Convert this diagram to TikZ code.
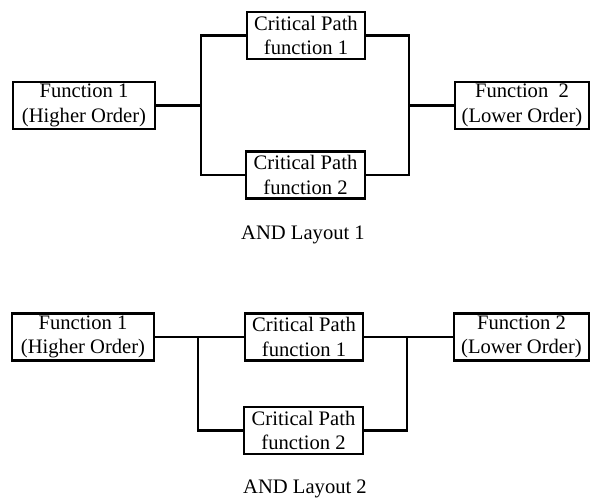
\documentclass[tikz,border=0pt]{standalone}
\usepackage{fontspec}
\setmainfont{Liberation Serif}
\begin{document}
\begin{tikzpicture}[x=0.5pt,y=-0.5pt,line width=1.1pt,
    fbox/.style={draw,align=center,inner sep=0pt,minimum height=23.5pt,
      font=\fontsize{10.3}{12.2}\selectfont},
    layoutcap/.style={font=\fontsize{10.3}{12}\selectfont}]
      \useasboundingbox (0,0) rectangle (590,501);
      \draw
        (84,105.5) node[fbox,minimum width=71pt] (f1a){Function 1\\(Higher Order)}
        (306,35.5) node[fbox,minimum width=59pt] (cpa){Critical Path\\function 1}
        (305.5,175) node[fbox,minimum width=59.5pt] (cpb){Critical Path\\function 2}
        (522,105.5) node[fbox,minimum width=67pt] (f2a){Function~~2\\(Lower Order)}
        (303,235) node[layoutcap] (la){AND Layout 1};
      \coordinate (ja) at (201,105.5);
      \coordinate (ka) at (409,105.5);
      \begin{scope}[-]
        \draw (f1a) to (ja);
        \draw (ja) |- (cpa);
        \draw (ja) |- (cpb);
        \draw (ka) |- (cpa);
        \draw (ka) |- (cpb);
        \draw (ka) to (f2a);
      \end{scope}
      \draw
        (83,337) node[fbox,minimum width=71pt] (f1b){Function 1\\(Higher Order)}
        (304,337) node[fbox,minimum width=59pt] (cpc){Critical Path\\function 1}
        (303.5,430.5) node[fbox,minimum width=59.5pt] (cpd){Critical Path\\function 2}
        (521.5,337) node[fbox,minimum width=67.5pt] (f2b){Function 2\\(Lower Order)}
        (305,489) node[layoutcap] (lb){AND Layout 2};
      \coordinate (jb) at (198,337);
      \coordinate (kb) at (407,337);
      \begin{scope}[-]
        \draw (f1b) to (cpc);
        \draw (cpc) to (f2b);
        \draw (jb) |- (cpd);
        \draw (kb) |- (cpd);
      \end{scope}
    \end{tikzpicture}
\end{document}
